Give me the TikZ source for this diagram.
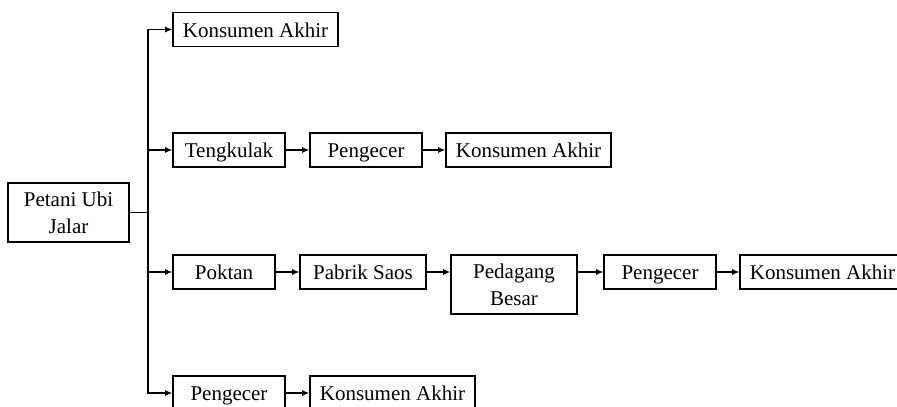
\documentclass[tikz,border=0pt]{standalone}
\usepackage{fontspec}
\setmainfont{Liberation Serif}
\usepackage{tikz}
\usetikzlibrary{arrows.meta, positioning, calc}
\tikzset{
	chain/.style ={rectangle, draw=black, line width=0.65pt, minimum height=17pt, inner sep=0pt, align=center},
	single/.style={chain, text height=9.4pt, text depth=1.6pt},
	wide/.style  ={single, minimum width=82.5pt},
	mid/.style   ={single, minimum width=56pt},
	tall/.style  ={chain, minimum height=29.5pt},
	flow/.style  ={-{Latex[length=3.6pt, width=3pt]}, line width=0.65pt},
}

\begin{document}
\begin{tikzpicture}[x=0.5pt, y=-0.5pt, font=\fontsize{10.5}{13.4}\selectfont]
			\clip (0,0) rectangle (897,406);
			% producer and branching point
			\node[tall, minimum width=60.5pt] (farmer) at (68.5,212.5) {Petani Ubi\\Jalar};
			\coordinate (split) at (148,212.5);
			% channel 1
			\node[wide] (konsA) at (255.5,29.5) {Konsumen Akhir};
			% channel 2
			\node[mid]  (tengkulak) at (229,150) {Tengkulak};
			\node[mid]  (pengB) at (366,150) {Pengecer};
			\node[wide] (konsB) at (528.5,150) {Konsumen Akhir};
			% channel 3
			\node[single, minimum width=51pt] (poktan) at (224,272) {Poktan};
			\node[single, minimum width=63pt] (pabrik) at (363,272) {Pabrik Saos};
			\node[tall, minimum width=63pt] (pedagang) at (514,284.5) {Pedagang\\Besar};
			\node[mid]  (pengC) at (660,272) {Pengecer};
			\node[wide] (konsC) at (822.5,272) {Konsumen Akhir};
			% channel 4
			\node[mid]  (pengD) at (229,393) {Pengecer};
			\node[wide] (konsD) at (392.5,393) {Konsumen Akhir};
			% connectors
			\draw[line width=0.65pt] (farmer.east) -- (split);
			\foreach \n in {konsA, tengkulak, poktan, pengD}
				\draw[flow] (split) |- (\n.west);
			\draw[flow] (tengkulak) -- (pengB);
			\draw[flow] (pengB) -- (konsB);
			\draw[flow] (poktan) -- (pabrik);
			\draw[flow] (pabrik.east) -- (pedagang.west |- pabrik.east);
			\draw[flow] (pedagang.east |- pengC.west) -- (pengC.west);
			\draw[flow] (pengC) -- (konsC);
			\draw[flow] (pengD) -- (konsD);
		\end{tikzpicture}
\end{document}
